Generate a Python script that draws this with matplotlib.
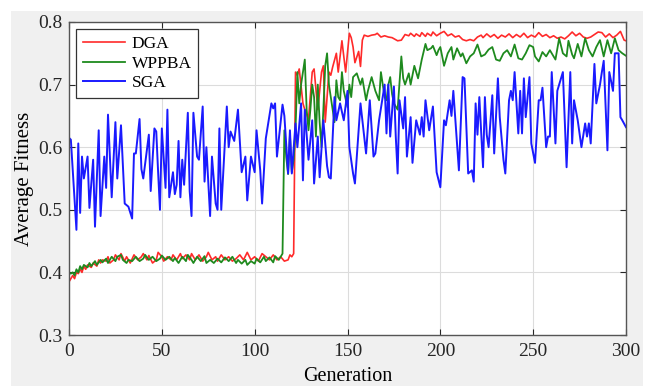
import matplotlib
matplotlib.use("Agg")
import matplotlib.pyplot as plt
from matplotlib.patches import Rectangle

# values (generation, average fitness)

dga_gen = [0, 1, 2, 3, 4, 5, 6, 7, 8, 9, 10, 12, 13, 15, 16, 17, 18, 20, 21, 22, 24, 25, 27, 28, 30,
	31, 33, 35, 37, 39, 40, 42, 43, 45, 47, 48, 50, 51, 53, 55, 56, 58, 60, 61, 63, 65, 66, 68, 70,
	72, 74, 75, 77, 79, 80, 82, 84, 86, 88, 90, 92, 94, 96, 98, 100, 102, 104, 106, 108, 110, 112,
	114, 116, 118, 119, 120, 121, 122, 123, 124, 126, 127, 129, 131, 132, 134, 136, 137, 138, 140,
	141, 142, 144, 145, 147, 149, 151, 152, 153, 154, 156, 157, 158, 159, 161, 163, 165, 166, 168,
	170, 172, 174, 177, 179, 181, 183, 184, 186, 187, 189, 190, 192, 193, 195, 196, 198, 200, 202,
	204, 206, 208, 210, 212, 214, 216, 218, 220, 222, 223, 225, 227, 229, 231, 233, 235, 237, 239,
	241, 243, 245, 247, 249, 251, 253, 255, 257, 259, 261, 263, 265, 267, 269, 271, 273, 275, 277,
	279, 281, 283, 285, 287, 289, 291, 293, 295, 297, 298, 299, 300]
dga_val = [0.385, 0.39, 0.395, 0.39, 0.40, 0.398, 0.405, 0.40, 0.41, 0.405, 0.412, 0.408, 0.415,
	0.41, 0.42, 0.415, 0.42, 0.418, 0.425, 0.415, 0.42, 0.428, 0.42, 0.43, 0.418, 0.425, 0.415, 0.428,
	0.42, 0.425, 0.43, 0.42, 0.427, 0.415, 0.42, 0.432, 0.425, 0.418, 0.425, 0.42, 0.428, 0.42, 0.43,
	0.422, 0.428, 0.42, 0.43, 0.42, 0.428, 0.418, 0.425, 0.432, 0.42, 0.425, 0.418, 0.428, 0.42,
	0.425, 0.418, 0.422, 0.428, 0.42, 0.432, 0.42, 0.425, 0.418, 0.43, 0.425, 0.42, 0.428, 0.42,
	0.425, 0.418, 0.42, 0.428, 0.425, 0.43, 0.72, 0.715, 0.725, 0.67, 0.66, 0.645, 0.72, 0.725, 0.66,
	0.72, 0.73, 0.64, 0.72, 0.715, 0.728, 0.75, 0.72, 0.77, 0.72, 0.782, 0.775, 0.76, 0.735, 0.753,
	0.729, 0.771, 0.779, 0.777, 0.779, 0.78, 0.782, 0.776, 0.778, 0.776, 0.775, 0.77, 0.771, 0.78,
	0.778, 0.782, 0.777, 0.781, 0.777, 0.783, 0.777, 0.782, 0.778, 0.784, 0.778, 0.782, 0.785, 0.778,
	0.781, 0.776, 0.778, 0.772, 0.77, 0.772, 0.77, 0.776, 0.779, 0.775, 0.781, 0.776, 0.78, 0.774,
	0.779, 0.776, 0.781, 0.775, 0.78, 0.776, 0.782, 0.775, 0.779, 0.776, 0.783, 0.777, 0.78, 0.775,
	0.778, 0.774, 0.776, 0.773, 0.778, 0.784, 0.778, 0.782, 0.776, 0.774, 0.776, 0.78, 0.784, 0.783,
	0.776, 0.781, 0.775, 0.779, 0.785, 0.778, 0.771, 0.77]

wppba_gen = [0, 1, 2, 3, 4, 5, 6, 7, 8, 10, 11, 12, 14, 15, 17, 18, 20, 21, 23, 25, 26, 28, 29, 31,
	32, 34, 36, 38, 40, 41, 43, 45, 47, 49, 50, 52, 54, 56, 57, 59, 61, 63, 64, 66, 67, 69, 71, 73,
	74, 76, 78, 80, 82, 84, 86, 88, 90, 91, 93, 95, 96, 98, 100, 101, 103, 105, 106, 108, 110, 111,
	113, 114, 115, 116, 117, 118, 119, 120, 121, 122, 123, 124, 125, 127, 128, 129, 130, 131, 132,
	133, 134, 135, 136, 137, 138, 139, 140, 141, 143, 144, 145, 146, 147, 148, 150, 151, 152, 153,
	155, 157, 158, 160, 161, 163, 165, 167, 168, 170, 171, 172, 173, 174, 175, 177, 179, 180, 181,
	183, 184, 186, 188, 190, 192, 193, 195, 196, 198, 199, 200, 202, 204, 206, 207, 209, 211, 212,
	214, 216, 218, 220, 222, 224, 226, 228, 230, 232, 234, 236, 238, 240, 242, 244, 246, 248, 250,
	251, 253, 255, 257, 259, 261, 262, 264, 266, 268, 269, 271, 272, 274, 276, 278, 280, 282, 284,
	286, 288, 290, 292, 294, 296, 298, 300]
wppba_val = [0.40, 0.398, 0.40, 0.395, 0.405, 0.40, 0.41, 0.405, 0.412, 0.408, 0.415, 0.41, 0.418,
	0.412, 0.42, 0.416, 0.422, 0.415, 0.425, 0.418, 0.425, 0.428, 0.42, 0.415, 0.42, 0.418, 0.425,
	0.418, 0.422, 0.428, 0.42, 0.425, 0.418, 0.422, 0.427, 0.42, 0.425, 0.418, 0.423, 0.415, 0.425,
	0.418, 0.428, 0.42, 0.415, 0.425, 0.418, 0.426, 0.415, 0.42, 0.415, 0.422, 0.416, 0.424, 0.418,
	0.425, 0.415, 0.42, 0.414, 0.42, 0.412, 0.418, 0.414, 0.422, 0.416, 0.425, 0.418, 0.424, 0.416,
	0.426, 0.42, 0.425, 0.43, 0.627, 0.584, 0.557, 0.62, 0.56, 0.58, 0.628, 0.72, 0.67, 0.70, 0.74,
	0.66, 0.627, 0.66, 0.70, 0.68, 0.617, 0.70, 0.64, 0.60, 0.66, 0.73, 0.75, 0.70, 0.68, 0.64,
	0.707, 0.68, 0.675, 0.72, 0.69, 0.664, 0.70, 0.68, 0.712, 0.718, 0.70, 0.71, 0.675, 0.69, 0.712,
	0.69, 0.675, 0.72, 0.68, 0.675, 0.70, 0.712, 0.685, 0.67, 0.66, 0.745, 0.71, 0.70, 0.718, 0.70,
	0.73, 0.71, 0.74, 0.765, 0.755, 0.758, 0.762, 0.747, 0.755, 0.76, 0.73, 0.75, 0.76, 0.74, 0.758,
	0.745, 0.75, 0.734, 0.745, 0.75, 0.764, 0.745, 0.748, 0.756, 0.76, 0.74, 0.738, 0.75, 0.755,
	0.745, 0.764, 0.742, 0.74, 0.75, 0.763, 0.76, 0.745, 0.737, 0.752, 0.745, 0.755, 0.745, 0.74,
	0.774, 0.75, 0.745, 0.77, 0.748, 0.742, 0.765, 0.745, 0.774, 0.755, 0.745, 0.76, 0.771, 0.745,
	0.771, 0.75, 0.774, 0.755, 0.75, 0.746]

sga_gen = [0, 1, 4, 5, 6, 7, 8, 10, 11, 13, 14, 16, 17, 19, 20, 21, 23, 25, 26, 28, 30, 32, 34, 35,
	36, 38, 39, 40, 43, 44, 46, 47, 48, 49, 50, 52, 53, 54, 56, 57, 58, 59, 60, 61, 62, 64, 65, 66,
	67, 69, 70, 72, 73, 74, 76, 77, 79, 80, 81, 82, 85, 86, 87, 89, 91, 93, 95, 96, 98, 100, 101,
	103, 104, 106, 109, 110, 111, 112, 115, 116, 118, 119, 120, 122, 123, 125, 126, 127, 129, 131,
	132, 134, 135, 137, 139, 140, 141, 143, 144, 146, 148, 150, 151, 153, 154, 157, 158, 160, 162,
	164, 165, 167, 170, 171, 172, 173, 175, 176, 177, 178, 180, 181, 182, 184, 185, 187, 189, 190,
	191, 192, 194, 196, 198, 200, 202, 203, 205, 206, 207, 208, 210, 212, 213, 215, 217, 218, 219,
	220, 221, 223, 224, 225, 226, 228, 229, 231, 232, 234, 235, 237, 238, 239, 240, 242, 243, 244,
	245, 246, 248, 249, 251, 253, 254, 255, 257, 258, 259, 260, 262, 263, 266, 268, 270, 271, 272,
	274, 276, 278, 279, 280, 281, 283, 284, 286, 287, 288, 290, 291, 293, 294, 296, 297, 298, 300]
sga_val = [0.615, 0.612, 0.468, 0.606, 0.495, 0.585, 0.55, 0.585, 0.503, 0.58, 0.473, 0.627, 0.49,
	0.585, 0.535, 0.652, 0.52, 0.64, 0.55, 0.635, 0.51, 0.505, 0.486, 0.59, 0.59, 0.645, 0.565, 0.55,
	0.62, 0.53, 0.63, 0.625, 0.56, 0.50, 0.63, 0.535, 0.66, 0.52, 0.56, 0.525, 0.54, 0.61, 0.52,
	0.58, 0.54, 0.655, 0.53, 0.49, 0.655, 0.585, 0.58, 0.665, 0.545, 0.60, 0.49, 0.585, 0.51, 0.50,
	0.63, 0.50, 0.665, 0.60, 0.625, 0.61, 0.66, 0.56, 0.585, 0.515, 0.585, 0.56, 0.627, 0.563, 0.51,
	0.614, 0.67, 0.662, 0.67, 0.585, 0.668, 0.65, 0.558, 0.627, 0.558, 0.638, 0.60, 0.67, 0.547,
	0.66, 0.58, 0.643, 0.542, 0.617, 0.552, 0.643, 0.57, 0.552, 0.55, 0.68, 0.643, 0.67, 0.643,
	0.69, 0.60, 0.558, 0.542, 0.67, 0.643, 0.59, 0.675, 0.585, 0.59, 0.643, 0.70, 0.622, 0.70,
	0.617, 0.697, 0.617, 0.558, 0.675, 0.63, 0.68, 0.585, 0.648, 0.575, 0.643, 0.62, 0.648, 0.617,
	0.675, 0.627, 0.665, 0.56, 0.536, 0.643, 0.635, 0.675, 0.65, 0.69, 0.648, 0.563, 0.712, 0.71,
	0.558, 0.563, 0.545, 0.67, 0.62, 0.68, 0.568, 0.68, 0.62, 0.60, 0.683, 0.59, 0.71, 0.648, 0.58,
	0.558, 0.675, 0.69, 0.675, 0.72, 0.622, 0.69, 0.622, 0.71, 0.648, 0.712, 0.606, 0.575, 0.675,
	0.675, 0.695, 0.60, 0.617, 0.617, 0.72, 0.606, 0.69, 0.72, 0.568, 0.72, 0.606, 0.675, 0.643,
	0.60, 0.638, 0.617, 0.638, 0.606, 0.733, 0.67, 0.70, 0.72, 0.738, 0.595, 0.72, 0.69, 0.75, 0.75,
	0.648, 0.643, 0.632]

x_ticks = [0, 50, 100, 150, 200, 250, 300]
y_ticks = [0.3, 0.4, 0.5, 0.6, 0.7, 0.8]

serif = ["Liberation Serif", "DejaVu Serif"]
plt.rcParams["font.family"] = serif

fig = plt.figure(figsize=(6.51, 3.86), dpi=100, facecolor="white")
fig.patches.append(Rectangle((11 / 651, 0), 632 / 651, 1 - 11 / 386,
	transform=fig.transFigure, facecolor="#f0f0f0", edgecolor="none", zorder=-5))

ax = fig.add_axes([69 / 651, 1 - 335 / 386, 557 / 651, 313 / 386])
ax.set_facecolor("white")
ax.set_zorder(2)

ax.plot(dga_gen, dga_val, color="#ff2a2a", lw=1.2, label="DGA")
ax.plot(wppba_gen, wppba_val, color="#1e8a1e", lw=1.3, label="WPPBA")
ax.plot(sga_gen, sga_val, color="#1a1aff", lw=1.4, label="SGA")

ax.set_xlim(0, 300)
ax.set_ylim(0.3, 0.8)
ax.set_xticks(x_ticks)
ax.set_yticks(y_ticks)
ax.set_yticklabels([f"{v:.1f}" for v in y_ticks])
ax.grid(True, color="#dcdcdc", lw=0.8)
ax.set_axisbelow(True)
ax.tick_params(direction="in", top=True, right=True, labelsize=14,
	colors="#262626", length=4, width=0.8)
ax.tick_params(axis="x", pad=6)
ax.tick_params(axis="y", pad=5)
for s in ax.spines.values():
	s.set_color("#555555")
	s.set_linewidth(1.0)

ax.set_xlabel("Generation", fontsize=14.5, labelpad=5)
ax.set_ylabel("Average Fitness", fontsize=15, labelpad=3)

leg = ax.legend(loc="upper left", fontsize=12.5, handlelength=2.4, borderpad=0.4,
	labelspacing=0.2, handletextpad=0.4, fancybox=False, framealpha=1,
	borderaxespad=0.4)
leg.get_frame().set_edgecolor("#333333")
leg.get_frame().set_linewidth(0.9)

fig.savefig("out.png", dpi=100, facecolor=fig.get_facecolor())
